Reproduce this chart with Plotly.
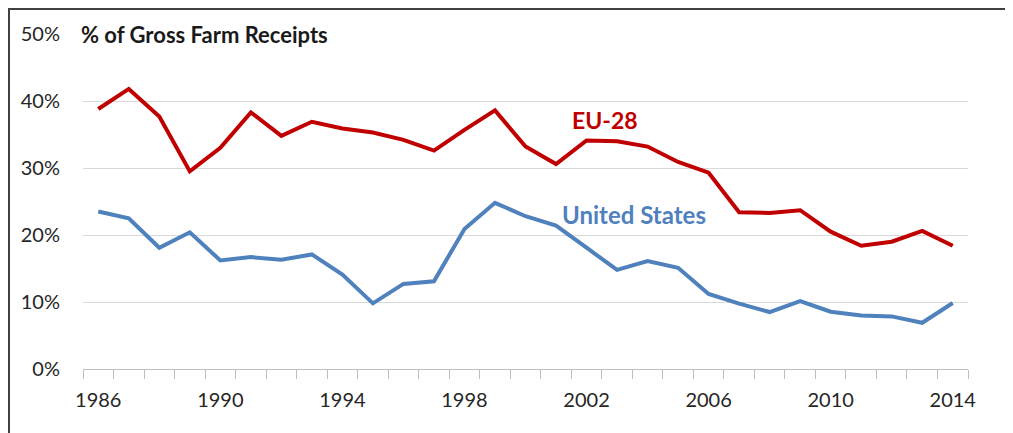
import plotly.graph_objects as go

years = list(range(1986, 2015))
eu28 = [38.8, 41.8, 37.7, 29.5, 33.0, 38.3, 34.8, 36.9, 35.9, 35.3, 34.2, 32.6,
        35.7, 38.6, 33.2, 30.6, 34.1, 34.0, 33.2, 30.9, 29.3, 23.4, 23.3, 23.7,
        20.5, 18.4, 19.0, 20.6, 18.4]
us = [23.5, 22.5, 18.1, 20.4, 16.2, 16.7, 16.3, 17.1, 14.1, 9.8, 12.7, 13.1,
      20.9, 24.8, 22.8, 21.4, 18.1, 14.8, 16.1, 15.1, 11.2, 9.75, 8.5, 10.15,
      8.55, 8.0, 7.85, 6.9, 9.85]
y_ticks = [0, 10, 20, 30, 40, 50]
y_labels = ["0%", "10%", "20%", "30%", "40%", "50%"]
x_ticks = [1986, 1990, 1994, 1998, 2002, 2006, 2010, 2014]

RED = "#C00000"
BLUE = "#4F81BD"
FONT = "Lato, Carlito, 'Open Sans', sans-serif"

# page body adds an 8px margin, so the figure is 8px smaller than the window
W, H = 1005, 425
ML, MR, MT, MB = 75, 45, 26, 64
PW = W - ML - MR
PH = H - MT - MB

fig = go.Figure()
fig.add_trace(go.Scatter(x=years, y=eu28, mode="lines", name="EU-28",
                         line=dict(color=RED, width=4), showlegend=False))
fig.add_trace(go.Scatter(x=years, y=us, mode="lines", name="United States",
                         line=dict(color=BLUE, width=4), showlegend=False))

fig.update_layout(
    width=W, height=H,
    margin=dict(l=ML, r=MR, t=MT, b=MB),
    paper_bgcolor="white", plot_bgcolor="white",
    font=dict(family=FONT, size=20, color="#333333"),
)
fig.update_xaxes(
    range=[1985.4999, 2014.5001], tickvals=x_ticks, ticktext=[str(v) for v in x_ticks],
    ticks="", showgrid=False, showline=True, linecolor="#BFBFBF", linewidth=1,
    zeroline=False, ticklabelstandoff=13,
    tickfont=dict(family=FONT, size=20, color="#262626"),
    minor=dict(ticks="outside", ticklen=9, tickcolor="#BFBFBF", tickwidth=1,
               tick0=1985.5, dtick=1, showgrid=False),
)
fig.update_yaxes(
    range=[0, 50], tickvals=y_ticks, ticktext=y_labels, ticks="",
    showgrid=True, gridcolor="#D9D9D9", gridwidth=1, zeroline=False,
    showline=False, ticklabelstandoff=22,
    tickfont=dict(family=FONT, size=20, color="#262626"),
)

fig.add_annotation(x=-7 / PW, y=50, xref="paper", yref="y", xanchor="left",
                   yanchor="middle", text="<b>% of Gross Farm Receipts</b>",
                   showarrow=False, bgcolor="white", borderpad=4,
                   font=dict(family=FONT, size=22, color="#1a1a1a"))
fig.add_annotation(x=2002.6, y=37.2, text="<b>EU-28</b>", showarrow=False,
                   font=dict(family=FONT, size=23, color=RED))
fig.add_annotation(x=2003.55, y=23.0, text="<b>United States</b>", showarrow=False,
                   font=dict(family=FONT, size=24, color=BLUE))

# chart frame (top and left edges visible in the reference)
fig.add_shape(type="line", xref="paper", yref="paper", x0=-ML / PW, x1=(W - ML) / PW,
              y0=1 + (MT - 1) / PH, y1=1 + (MT - 1) / PH,
              line=dict(color="#404040", width=2))
fig.add_shape(type="line", xref="paper", yref="paper", x0=-(ML - 1) / PW, x1=-(ML - 1) / PW,
              y0=1 + MT / PH, y1=-MB / PH, line=dict(color="#404040", width=2))

fig.write_html("out.html")
